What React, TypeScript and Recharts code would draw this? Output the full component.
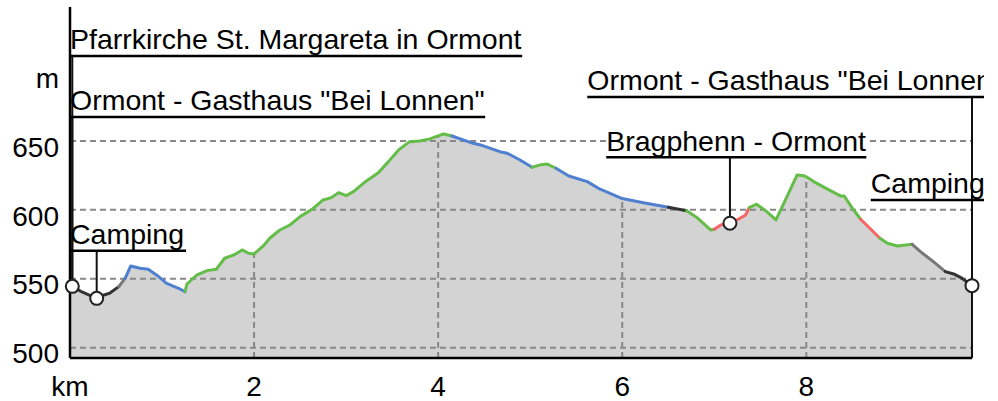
import React from 'react';
import { ComposedChart, Area, Line, XAxis, YAxis, ReferenceLine, ReferenceDot } from 'recharts';

const FONT = '"Liberation Sans", Arial, Helvetica, sans-serif';

// Elevation profile (km, m)
const profileKm = [0, 0.13, 0.29, 0.36, 0.43, 0.53, 0.60, 0.66, 0.76, 0.85, 0.94, 1.05, 1.18, 1.25, 1.27, 1.38, 1.49, 1.59, 1.68, 1.78, 1.87, 1.94, 2.00, 2.10, 2.17, 2.28, 2.39, 2.50, 2.63, 2.75, 2.84, 2.92, 3.00, 3.08, 3.22, 3.35, 3.46, 3.57, 3.69, 3.80, 3.91, 4.00, 4.06, 4.15, 4.38, 4.46, 4.67, 4.75, 4.89, 5.02, 5.10, 5.18, 5.28, 5.42, 5.62, 5.76, 6.00, 6.23, 6.50, 6.70, 6.81, 6.96, 7.00, 7.07, 7.17, 7.26, 7.34, 7.38, 7.46, 7.57, 7.67, 7.79, 7.90, 7.97, 8.00, 8.08, 8.23, 8.37, 8.41, 8.50, 8.59, 8.80, 8.88, 8.99, 9.15, 9.24, 9.38, 9.51, 9.60, 9.69, 9.80];
const profileElev = [545.5, 540.4, 535.8, 538, 539.5, 544.3, 550.4, 559.3, 557.6, 556.9, 552.8, 546.7, 543.1, 540.6, 546.2, 552.8, 555.9, 556.9, 564.9, 567.3, 570.9, 568.5, 568, 573.8, 579.4, 585.4, 589, 595.1, 600.4, 607.2, 608.9, 612.5, 610.3, 613.2, 621, 627, 635, 643.5, 649.5, 650, 651.5, 653.7, 655.1, 653.6, 648.3, 647.1, 642.2, 641.1, 636.2, 630.9, 632.5, 633.3, 630.2, 624.6, 620.5, 615, 608.2, 605.2, 601.9, 599.4, 594.5, 585.4, 585.9, 589, 590.3, 593.2, 596.3, 601.6, 604.1, 598.7, 592.7, 609.6, 625.3, 624.8, 624, 620.5, 615, 610.1, 610.1, 601.2, 593.2, 579.4, 575.8, 573.8, 575, 569.7, 562.4, 555.2, 553.5, 550.4, 545];

// Coloured surface segments
const segStart = [0, 0.53, 0.60, 1.25, 4.15, 5.02, 5.28, 6.50, 6.70, 7.00, 7.38, 8.59, 8.80, 9.15, 9.51];
const segEnd = [0.53, 0.60, 1.25, 4.15, 5.02, 5.28, 6.50, 6.70, 7.00, 7.38, 8.59, 8.80, 9.15, 9.51, 9.80];
const segColor = ['#333333', '#777777', '#4f80d0', '#64bd48', '#4f80d0', '#64bd48', '#4f80d0', '#333333', '#64bd48', '#f86464', '#64bd48', '#f86464', '#64bd48', '#777777', '#333333'];

// Axes
const xTicks = [0, 2, 4, 6, 8];
const xTickLabels = ['km', '2', '4', '6', '8'];
const yTicks = [500, 550, 600, 650, 700];
const yTickLabels = ['500', '550', '600', '650', 'm'];
const xDomain = [0, 9.8];
const yDomain = [492.5, 747.2];
const gridElev = [500, 550, 600, 650];
const gridKm = [2, 4, 6, 8];

// Waypoint annotations
const annText = ['Pfarrkirche St. Margareta in Ormont', 'Ormont - Gasthaus "Bei Lonnen"', 'Camping', 'Bragphenn - Ormont', 'Ormont - Gasthaus "Bei Lonnen"', 'Camping'];
const annKmStart = [0, 0, 0, 5.826, 5.62, 8.70];
const annKmEnd = [4.913, 4.511, 1.261, 8.652, 9.95, 9.95];
const annElev = [711.7, 667.4, 570.4, 638.2, 681.9, 607.2];
const annBg = [false, false, false, true, false, false];
const poleKm = [0.025, 0.025, 0.29, 7.17, 9.8];
const poleTop = [711.7, 667.4, 570.4, 638.2, 681.9];
const poleBottom = [544.5, 544.5, 535.8, 590.3, 492.5];
const dotKm = [0.025, 0.29, 7.17, 9.8];
const dotElev = [544.5, 535.8, 590.3, 545];

const data = profileKm.map((km, i) => ({ km, elev: profileElev[i] }));
const segments = segStart.map((s, i) => ({
  color: segColor[i],
  data: data.filter((d) => d.km >= s - 1e-9 && d.km <= segEnd[i] + 1e-9),
}));
const elevAt = (km: number) => {
  const p = data.find((d) => Math.abs(d.km - km) < 1e-9);
  return p ? p.elev : yDomain[0];
};

const XTick = (props: any) => {
  const { x, y, payload } = props;
  const i = xTicks.indexOf(payload.value);
  return (
    <text x={x} y={y + 37.5} textAnchor="middle" fontSize={28} fontFamily={FONT} fill="#000">
      {i >= 0 ? xTickLabels[i] : payload.value}
    </text>
  );
};

const YTick = (props: any) => {
  const { x, y, payload } = props;
  const i = yTicks.indexOf(payload.value);
  return (
    <text x={x - 11} y={y + 15.7} textAnchor="end" fontSize={28} fontFamily={FONT} fill="#000">
      {i >= 0 ? yTickLabels[i] : payload.value}
    </text>
  );
};

const makeLabel = (text: string, bg: boolean) => (props: any) => {
  const vb = props.viewBox || {};
  const x = vb.x ?? 0;
  const y = vb.y ?? 0;
  const w = vb.width ?? 0;
  return (
    <g>
      {bg && <rect x={x} y={y - 30} width={w} height={28.5} fill="#ffffff" />}
      <text x={x} y={y - 6.5} fontSize={28.5} fontFamily={FONT} fill="#000">
        {text}
      </text>
    </g>
  );
};

export default function App() {
  return (
    <div style={{ position: 'absolute', left: 0, top: 0 }}>
      <ComposedChart
        width={984}
        height={401}
        data={data}
        margin={{ top: 7, right: 12, bottom: 0, left: 0 }}
      >
        <XAxis
          type="number"
          dataKey="km"
          domain={xDomain}
          allowDataOverflow
          ticks={xTicks}
          interval={0}
          tick={<XTick />}
          tickLine={false}
          tickSize={0}
          tickMargin={0}
          height={43}
          axisLine={{ stroke: '#000', strokeWidth: 2.5 }}
        />
        <YAxis
          type="number"
          domain={yDomain}
          allowDataOverflow
          ticks={yTicks}
          interval={0}
          tick={<YTick />}
          tickLine={false}
          tickSize={0}
          tickMargin={0}
          width={70}
          axisLine={{ stroke: '#000', strokeWidth: 2.5 }}
        />
        <Area
          type="linear"
          dataKey="elev"
          stroke="none"
          fill="#d3d3d3"
          fillOpacity={1}
          isAnimationActive={false}
          dot={false}
          activeDot={false}
        />
        {gridElev.map((v) => (
          <ReferenceLine
            key={'gh' + v}
            y={v}
            stroke="#888888"
            strokeWidth={2}
            strokeDasharray="6 4"
            ifOverflow="visible"
          />
        ))}
        {gridKm.map((k) => (
          <ReferenceLine
            key={'gv' + k}
            segment={[{ x: k, y: yDomain[0] }, { x: k, y: elevAt(k) }]}
            stroke="#888888"
            strokeWidth={2}
            strokeDasharray="6 4"
            ifOverflow="visible"
          />
        ))}
        {segments.map((s, i) => (
          <Line
            key={'seg' + i}
            data={s.data}
            type="linear"
            dataKey="elev"
            stroke={s.color}
            strokeWidth={3}
            strokeLinejoin="round"
            strokeLinecap="round"
            dot={false}
            activeDot={false}
            isAnimationActive={false}
            legendType="none"
          />
        ))}
        {poleKm.map((k, i) => (
          <ReferenceLine
            key={'pole' + i}
            segment={[{ x: k, y: poleTop[i] }, { x: k, y: poleBottom[i] }]}
            stroke="#111111"
            strokeWidth={2}
            ifOverflow="visible"
          />
        ))}
        {annText.map((t, i) => (
          <ReferenceLine
            key={'ann' + i}
            segment={[{ x: annKmStart[i], y: annElev[i] }, { x: annKmEnd[i], y: annElev[i] }]}
            stroke="#000000"
            strokeWidth={2.5}
            ifOverflow="visible"
            label={makeLabel(t, annBg[i])}
          />
        ))}
        {dotKm.map((k, i) => (
          <ReferenceDot
            key={'dot' + i}
            x={k}
            y={dotElev[i]}
            r={6.5}
            fill="#ffffff"
            stroke="#222222"
            strokeWidth={2}
            ifOverflow="visible"
          />
        ))}
      </ComposedChart>
    </div>
  );
}
